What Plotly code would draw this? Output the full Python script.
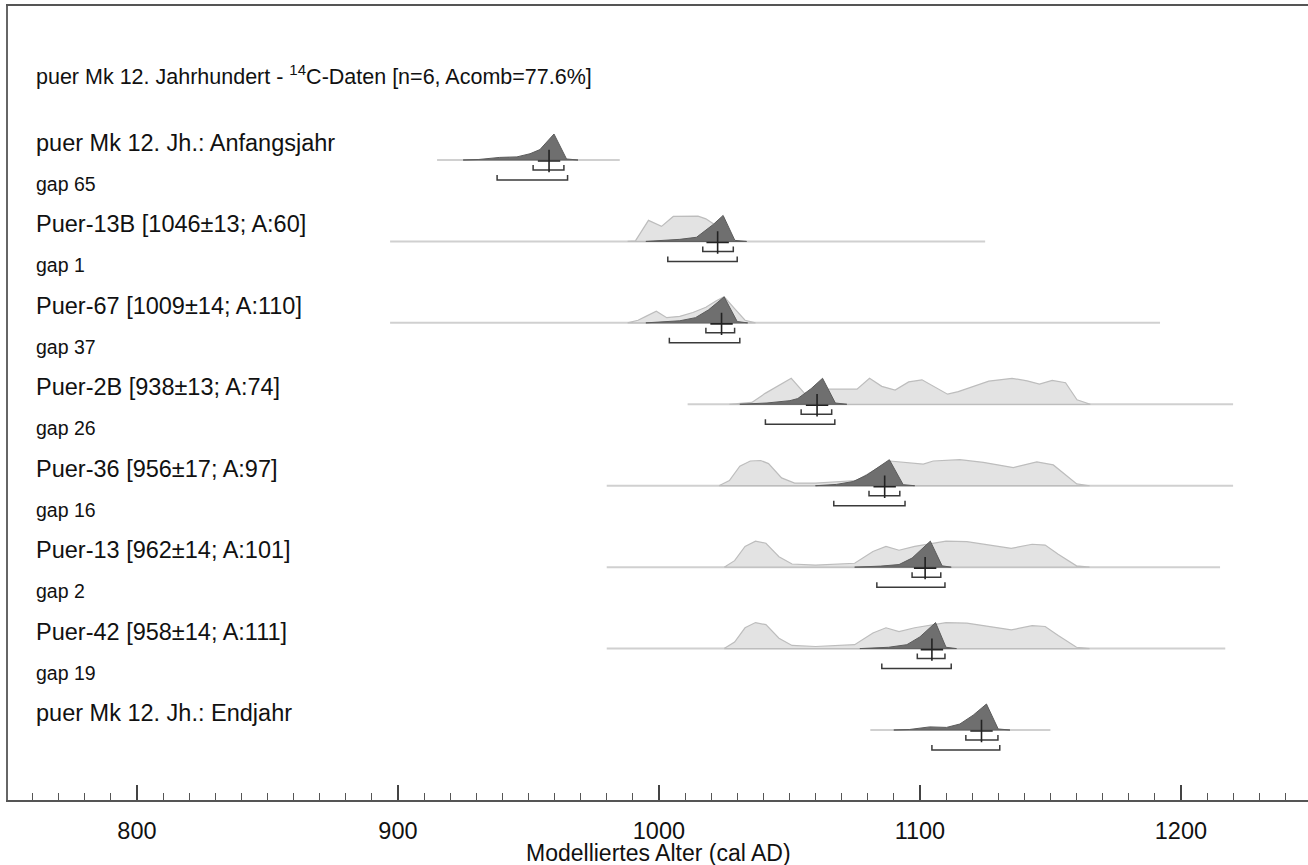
import plotly.graph_objects as go

# ---------------- data ----------------
labels = ["puer Mk 12. Jh.: Anfangsjahr", "Puer-13B [1046±13; A:60]", "Puer-67 [1009±14; A:110]",
          "Puer-2B [938±13; A:74]", "Puer-36 [956±17; A:97]", "Puer-13 [962±14; A:101]",
          "Puer-42 [958±14; A:111]", "puer Mk 12. Jh.: Endjahr"]
gap_labels = ["gap 65", "gap 1", "gap 37", "gap 26", "gap 16", "gap 2", "gap 19"]
title_text = "puer Mk 12. Jahrhundert - <sup>14</sup>C-Daten [n=6, Acomb=77.6%]"

range_start = [915, 897, 897, 1011, 980, 980, 980, 1081]
range_end = [985, 1125, 1192, 1220, 1220, 1215, 1217, 1150]

# unmodelled likelihoods (relative probability)
light_years = [
    [],
    [988, 991, 996, 1001, 1005.5, 1015, 1018, 1022, 1026, 1028],
    [988, 992, 995, 999, 1003, 1008, 1013, 1018, 1022, 1025, 1029, 1033, 1037],
    [1027, 1031, 1035.6, 1040.7, 1050.7, 1055.8, 1060, 1064.9, 1075.9, 1080.7, 1085.4, 1090.5, 1095.7,
     1100.8, 1110.6, 1114.7, 1126.4, 1135.3, 1141.1, 1145.8, 1150.7, 1155.8, 1160.2, 1165.3],
    [1023, 1027, 1031, 1035, 1039, 1042, 1047, 1052, 1060, 1075.7, 1088.5, 1101.3, 1105.1, 1115.3,
     1124.3, 1135.8, 1144.8, 1151.1, 1160.1, 1165],
    [1025, 1029, 1033, 1037, 1041, 1046, 1051, 1060, 1075, 1082, 1087, 1092, 1098, 1104, 1110, 1118,
     1127, 1135, 1143, 1148, 1153, 1160, 1165],
    [1025, 1029, 1033, 1037, 1041, 1046, 1051, 1060, 1075, 1082, 1087, 1092, 1098, 1104, 1110, 1118,
     1127, 1135, 1143, 1148, 1153, 1160, 1165],
    [],
]
light_prob = [
    [],
    [0, 0.02, 0.81, 0.58, 0.96, 0.97, 0.87, 0.6, 0.15, 0],
    [0, 0.1, 0.25, 0.45, 0.2, 0.25, 0.4, 0.6, 0.85, 1.0, 0.55, 0.1, 0],
    [0, 0.02, 0.07, 0.42, 1.0, 0.42, 0.5, 0.58, 0.58, 1.0, 0.69, 0.55, 0.86,
     0.94, 0.39, 0.49, 0.89, 1.0, 0.9, 0.78, 0.92, 0.83, 0.17, 0],
    [0, 0.2, 0.75, 0.95, 0.97, 0.85, 0.3, 0.1, 0.1, 0.2, 0.95, 0.83, 0.95, 1.0,
     0.9, 0.7, 0.92, 0.8, 0.07, 0],
    [0, 0.25, 0.8, 1.0, 0.92, 0.4, 0.12, 0.08, 0.15, 0.6, 0.8, 0.65, 0.8, 0.9, 1.0, 0.98,
     0.85, 0.72, 0.88, 0.85, 0.5, 0.05, 0],
    [0, 0.25, 0.8, 1.0, 0.92, 0.4, 0.12, 0.08, 0.15, 0.6, 0.8, 0.65, 0.8, 0.9, 1.0, 0.98,
     0.85, 0.72, 0.88, 0.85, 0.5, 0.05, 0],
    [],
]

# modelled posteriors (relative probability)
dark_years = [
    [925, 931, 939, 945.6, 950.6, 954.4, 959.8, 964.6, 969],
    [995, 1000.4, 1008, 1014.4, 1018.3, 1020.8, 1024.6, 1029.1, 1033.6],
    [995, 1000, 1008, 1014, 1019, 1025, 1030, 1034],
    [1031, 1041.4, 1050.2, 1053.2, 1058.3, 1062.7, 1067.6, 1072],
    [1060, 1068, 1074.4, 1079.5, 1088.3, 1093.6, 1098],
    [1075, 1085, 1092, 1097, 1104, 1108.5, 1112],
    [1077, 1088, 1095, 1100, 1106, 1110, 1114],
    [1090, 1096, 1103.8, 1110.2, 1115.3, 1120.4, 1125.5, 1130, 1134.5],
]
dark_prob = [
    [0, 0.02, 0.1, 0.12, 0.24, 0.4, 1.0, 0.04, 0],
    [0, 0.04, 0.08, 0.16, 0.45, 0.65, 1.0, 0.04, 0],
    [0, 0.04, 0.08, 0.2, 0.5, 1.0, 0.05, 0],
    [0, 0.05, 0.14, 0.22, 0.6, 1.0, 0.05, 0],
    [0, 0.05, 0.16, 0.4, 1.0, 0.04, 0],
    [0, 0.04, 0.1, 0.35, 1.0, 0.05, 0],
    [0, 0.05, 0.15, 0.45, 1.0, 0.05, 0],
    [0, 0.02, 0.12, 0.1, 0.23, 0.57, 1.0, 0.04, 0],
]

means = [957.9, 1022.5, 1024, 1060.6, 1086.5, 1102, 1104.6, 1123.6]
r68_lo = [951.8, 1016.8, 1018, 1054.5, 1080.5, 1097, 1099, 1117.6]
r68_hi = [963.6, 1028.5, 1029, 1066.2, 1092.3, 1108, 1109.6, 1129.9]
r95_lo = [938, 1003.4, 1004, 1040.8, 1067, 1083.5, 1085.4, 1104.6]
r95_hi = [965, 1030, 1031, 1067.4, 1094.3, 1109.6, 1112, 1130.6]

x_ticks = [800, 900, 1000, 1100, 1200]
x_title = "Modelliertes Alter (cal AD)"

# ---------------- layout helpers ----------------
W, H = 1308, 865
ML, MR, MT, MB = 8, 0, 6, 65
ROW_PX = 81.43          # pixel spacing between rows
BASE0_PX = 160          # baseline of first row in pixels
def u(px):              # pixel offset -> row units
    return px / ROW_PX
Y_TOP = u(MT - BASE0_PX)
Y_BOT = u(H - MB - BASE0_PX)
PEAK = u(26)

FONT = "Liberation Sans, Arial, sans-serif"
LIGHT_FILL, LIGHT_LINE = "#e3e3e3", "#bdbdbd"
DARK_FILL, DARK_LINE = "#6f6f6f", "#5c5c5c"
BASE_LINE = "#d0d0d0"
MARK = "#3a3a3a"

fig = go.Figure()

for i in range(len(labels)):
    yb = i
    fig.add_trace(go.Scatter(x=[range_start[i], range_end[i]], y=[yb, yb], mode="lines",
                             line=dict(color=BASE_LINE, width=2), hoverinfo="skip", showlegend=False))
    if light_years[i]:
        xs = light_years[i]
        ys = [yb - p * PEAK for p in light_prob[i]]
        fig.add_trace(go.Scatter(x=xs + [xs[-1], xs[0]], y=ys + [yb, yb], mode="lines", fill="toself",
                                 fillcolor=LIGHT_FILL, line=dict(color=LIGHT_LINE, width=1.2),
                                 hoverinfo="skip", showlegend=False))
    xs = dark_years[i]
    ys = [yb - p * PEAK for p in dark_prob[i]]
    fig.add_trace(go.Scatter(x=xs + [xs[-1], xs[0]], y=ys + [yb, yb], mode="lines", fill="toself",
                             fillcolor=DARK_FILL, line=dict(color=DARK_LINE, width=1),
                             hoverinfo="skip", showlegend=False))
    for lo, hi, off in [(r68_lo[i], r68_hi[i], 10), (r95_lo[i], r95_hi[i], 20)]:
        yy = yb + u(off)
        fig.add_trace(go.Scatter(x=[lo, lo, hi, hi], y=[yy - u(5), yy, yy, yy - u(5)], mode="lines",
                                 line=dict(color=MARK, width=1.5), hoverinfo="skip", showlegend=False))
    fig.add_trace(go.Scatter(x=[means[i]], y=[yb + u(1)], mode="markers",
                             marker=dict(symbol="cross-thin", size=16, line=dict(color="#222", width=1.6)),
                             hoverinfo="skip", showlegend=False))

ann = []
LX = (34 - ML) / (W - ML - MR)
ann.append(dict(x=LX, xref="paper", y=u(75 - BASE0_PX), yref="y", text=title_text, showarrow=False,
                xanchor="left", yanchor="middle", font=dict(size=21.5, color="#111", family=FONT)))
for i, lab in enumerate(labels):
    ann.append(dict(x=LX, xref="paper", y=i - u(17), yref="y", text=lab, showarrow=False,
                    xanchor="left", yanchor="middle", font=dict(size=23.5, color="#111", family=FONT)))
for i, g in enumerate(gap_labels):
    ann.append(dict(x=LX, xref="paper", y=i + u(24), yref="y", text=g, showarrow=False,
                    xanchor="left", yanchor="middle", font=dict(size=19.5, color="#111", family=FONT)))
ann.append(dict(x=1000, xref="x", y=(H - MB - 853) / (H - MT - MB), yref="paper", text=x_title,
                showarrow=False, xanchor="center", yanchor="middle",
                font=dict(size=23, color="#111", family=FONT)))

fig.update_layout(
    width=W, height=H, margin=dict(l=ML, r=MR, t=MT, b=MB),
    paper_bgcolor="white", plot_bgcolor="white",
    annotations=ann,
    xaxis=dict(range=[750.6, 1248.7], tickvals=x_ticks, ticks="inside", ticklen=15, tickwidth=1.5,
               tickcolor="#444", showline=True, linecolor="#555", linewidth=2, mirror=True,
               showgrid=False, zeroline=False, ticklabelstandoff=9,
               tickfont=dict(size=23.5, color="#111", family=FONT),
               minor=dict(dtick=10, ticks="inside", ticklen=7, tickwidth=1, tickcolor="#555")),
    yaxis=dict(range=[Y_BOT, Y_TOP], showline=True, linecolor="#666", linewidth=2, showgrid=False,
               zeroline=False, showticklabels=False, ticks=""),
)

fig.write_html("out.html", config={"displayModeBar": False},
               post_script="document.body.style.margin='0';")
